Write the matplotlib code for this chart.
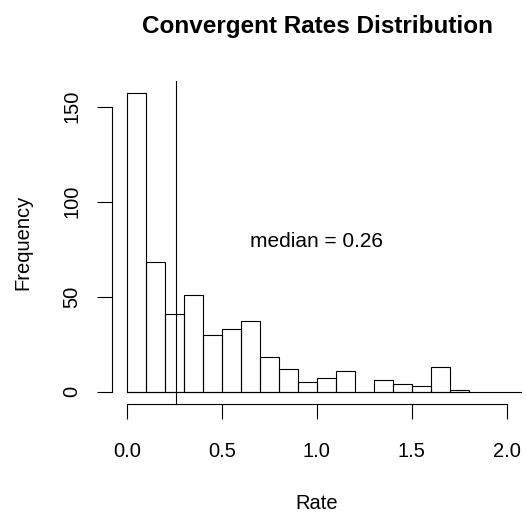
import matplotlib
matplotlib.use("Agg")
import matplotlib.pyplot as plt

plt.rcParams['font.family'] = ['Liberation Sans', 'DejaVu Sans']

# histogram of convergent rates, bin width 0.1
bin_edges = [0.0, 0.1, 0.2, 0.3, 0.4, 0.5, 0.6, 0.7, 0.8, 0.9,
             1.0, 1.1, 1.2, 1.3, 1.4, 1.5, 1.6, 1.7, 1.8]
counts = [157, 68, 41, 51, 30, 33, 37, 18, 12, 5, 7, 11, 0, 6, 4, 3, 13, 1]
median_rate = 0.26
x_ticks = [0.0, 0.5, 1.0, 1.5, 2.0]
y_ticks = [0, 50, 100, 150]

fig = plt.figure(figsize=(5.26, 5.14), dpi=100)
ax = fig.add_axes([0.2125, 0.2148, 0.780, 0.6267])

ax.bar(bin_edges[:-1], counts, width=0.1, align='edge',
       fill=False, edgecolor='black', linewidth=0.8)
ax.set_xlim(-0.08, 2.08)
ax.set_ylim(-6.28, 163.28)
ax.plot([bin_edges[0], 2.08], [0, 0], color='black', linewidth=0.8)
ax.axvline(median_rate, color='black', linewidth=0.8)
ax.text(1.0, 79, f"median = {median_rate}", ha='center', va='center', fontsize=15)

for s in ['top', 'right']:
    ax.spines[s].set_visible(False)
ax.spines['left'].set_bounds(0, 150)
ax.spines['bottom'].set_bounds(0, 2)
for s in ['left', 'bottom']:
    ax.spines[s].set_linewidth(0.8)

ax.set_xticks(x_ticks)
ax.set_xticklabels([f"{t:.1f}" for t in x_ticks])
ax.set_yticks(y_ticks)
ax.set_yticklabels([str(t) for t in y_ticks], rotation=90, va='center')
ax.tick_params(axis='both', length=10.8, width=0.8, labelsize=14.5)
ax.tick_params(axis='x', pad=16.5)
ax.tick_params(axis='y', pad=11)

fig.text(0.6027, 0.949, "Convergent Rates Distribution", ha='center', va='center',
         fontsize=17.5, fontweight='bold')
fig.text(0.6027, 0.021, "Rate", ha='center', va='center', fontsize=14.5)
fig.text(0.044, 0.528, "Frequency", ha='center', va='center', rotation=90, fontsize=14.5)

fig.savefig("out.png", dpi=100)
